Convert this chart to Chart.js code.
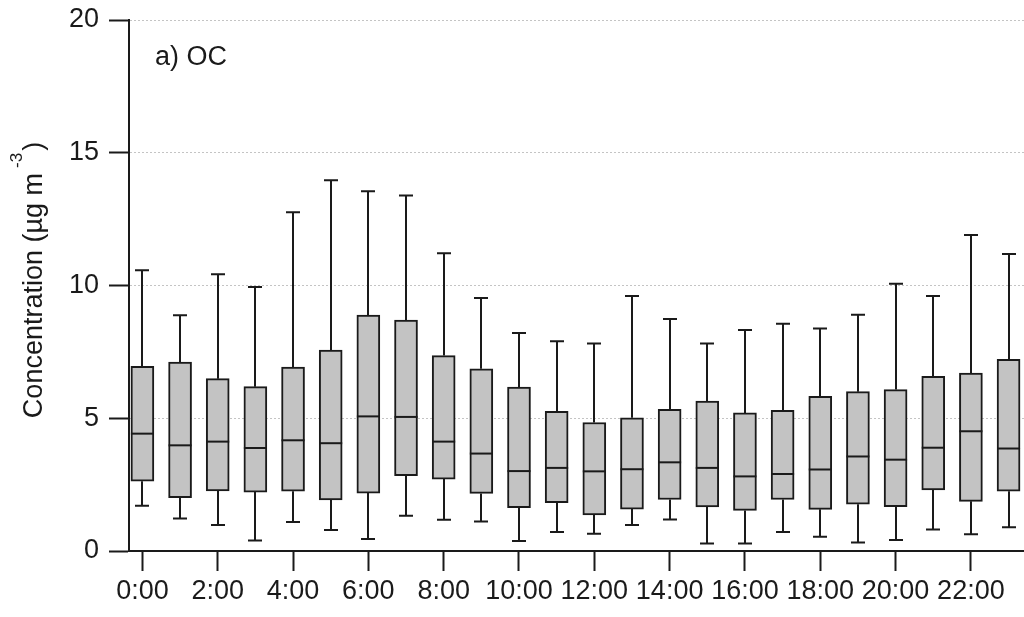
<!DOCTYPE html>
<html>
<head>
<meta charset="utf-8">
<script src="https://cdn.jsdelivr.net/npm/chart.js@4"></script>
<style>
  body { margin: 0; background: #fff; }
</style>
</head>
<body>
<canvas id="oc-chart" width="1024" height="617"></canvas>
<script>
// hour of day for each box
var hours = [0, 1, 2, 3, 4, 5, 6, 7, 8, 9, 10, 11, 12, 13, 14, 15, 16, 17, 18, 19, 20, 21, 22, 23];

// box plot statistics per hour (ug m-3)
var whiskerLow = [1.70, 1.22, 0.98, 0.40, 1.09, 0.79, 0.45, 1.33, 1.18, 1.11, 0.38, 0.72,
                  0.65, 0.98, 1.19, 0.28, 0.28, 0.72, 0.54, 0.32, 0.41, 0.81, 0.63, 0.89];
var boxLow = [2.63, 2.01, 2.26, 2.22, 2.25, 1.92, 2.18, 2.84, 2.71, 2.17, 1.63, 1.82,
              1.36, 1.58, 1.94, 1.66, 1.53, 1.94, 1.57, 1.76, 1.67, 2.30, 1.87, 2.25];
var medians = [4.42, 3.98, 4.12, 3.88, 4.17, 4.06, 5.07, 5.05, 4.12, 3.67, 3.01, 3.13,
               3.00, 3.08, 3.34, 3.13, 2.81, 2.90, 3.07, 3.56, 3.44, 3.89, 4.51, 3.86];
var boxHigh = [6.96, 7.12, 6.49, 6.19, 6.93, 7.57, 8.89, 8.70, 7.36, 6.86, 6.17, 5.26,
               4.84, 5.02, 5.34, 5.65, 5.20, 5.30, 5.83, 6.00, 6.08, 6.58, 6.70, 7.22];
var whiskerHigh = [10.57, 8.88, 10.42, 9.94, 12.76, 13.96, 13.55, 13.39, 11.21, 9.53, 8.21, 7.90,
                   7.82, 9.60, 8.74, 7.82, 8.32, 8.56, 8.38, 8.90, 10.07, 9.60, 11.90, 11.19];

// tick labels
var xTicks = [0, 2, 4, 6, 8, 10, 12, 14, 16, 18, 20, 22];
var yTicks = [0, 5, 10, 15, 20];

var panelLabel = "a) OC";
var yTitle = "Concentration (µg m";
var yTitleSup = "-3";
var yTitleEnd = ")";

var FONT = '"Liberation Sans", Arial, sans-serif';
var INK = '#1a1a1a';

// whiskers, medians, axis title and panel label
var boxExtras = {
  id: 'boxExtras',
  beforeDatasetsDraw: function (chart) {
    let ctx = chart.ctx;
    let xs = chart.scales.x, ys = chart.scales.y;
    ctx.save();
    ctx.strokeStyle = INK;
    ctx.lineWidth = 2;
    hours.forEach(function (h, i) {
      let x = Math.round(xs.getPixelForValue(h));
      let yTop = ys.getPixelForValue(whiskerHigh[i]);
      let yQ3 = ys.getPixelForValue(boxHigh[i]);
      let yQ1 = ys.getPixelForValue(boxLow[i]);
      let yBot = ys.getPixelForValue(whiskerLow[i]);
      ctx.beginPath();
      ctx.moveTo(x, yQ3); ctx.lineTo(x, yTop);
      ctx.moveTo(x - 7, yTop); ctx.lineTo(x + 7, yTop);
      ctx.moveTo(x, yQ1); ctx.lineTo(x, yBot);
      ctx.moveTo(x - 7, yBot); ctx.lineTo(x + 7, yBot);
      ctx.stroke();
    });
    ctx.restore();
  },
  afterDatasetsDraw: function (chart) {
    let ctx = chart.ctx;
    let ys = chart.scales.y;
    let bars = chart.getDatasetMeta(0).data;
    ctx.save();
    ctx.strokeStyle = INK;
    ctx.lineWidth = 2;
    bars.forEach(function (bar, i) {
      let y = ys.getPixelForValue(medians[i]);
      ctx.beginPath();
      ctx.moveTo(bar.x - bar.width / 2, y);
      ctx.lineTo(bar.x + bar.width / 2, y);
      ctx.stroke();
    });
    ctx.restore();
  },
  afterDraw: function (chart) {
    let ctx = chart.ctx;
    let area = chart.chartArea;
    ctx.save();
    ctx.fillStyle = INK;
    ctx.textBaseline = 'alphabetic';

    // panel label
    ctx.font = '27px ' + FONT;
    ctx.textAlign = 'left';
    ctx.fillText(panelLabel, area.left + 26, area.top + 45);

    // rotated y title with superscript
    ctx.translate(42, 280);
    ctx.rotate(-Math.PI / 2);
    ctx.font = '27px ' + FONT;
    let w1 = ctx.measureText(yTitle).width;
    let w3 = ctx.measureText(yTitleEnd).width;
    ctx.font = '17px ' + FONT;
    let w2 = ctx.measureText(yTitleSup).width;
    let gap = 5;
    let start = -(w1 + gap + w2 + 2 + w3) / 2;
    ctx.font = '27px ' + FONT;
    ctx.fillText(yTitle, start, 0);
    ctx.font = '17px ' + FONT;
    ctx.fillText(yTitleSup, start + w1 + gap, -20);
    ctx.font = '27px ' + FONT;
    ctx.fillText(yTitleEnd, start + w1 + gap + w2 + 2, 0);
    ctx.restore();
  }
};

function buildChart() {
  let ctx = document.getElementById('oc-chart').getContext('2d');

  let boxData = hours.map(function (h, i) {
    return { x: h, y: [boxLow[i], boxHigh[i]] };
  });

  new Chart(ctx, {
    type: 'bar',
    data: {
      datasets: [{
        label: 'OC',
        data: boxData,
        backgroundColor: '#c3c3c3',
        borderColor: INK,
        borderWidth: 2,
        borderSkipped: false,
        barThickness: 23
      }]
    },
    options: {
      responsive: false,
      animation: false,
      events: [],
      layout: { padding: { top: 20, right: 0, bottom: 0, left: 0 } },
      plugins: {
        legend: { display: false },
        tooltip: { enabled: false }
      },
      scales: {
        x: {
          type: 'linear',
          offset: false,
          min: -0.356,
          max: 23.41,
          afterBuildTicks: function (scale) {
            scale.ticks = xTicks.map(function (v) { return { value: v }; });
          },
          afterFit: function (scale) {
            scale.height = 66;
            scale.paddingLeft = 0;
            scale.paddingRight = 0;
          },
          grid: {
            offset: false,
            drawOnChartArea: false,
            drawTicks: true,
            tickLength: 20,
            tickWidth: 2,
            tickColor: INK
          },
          border: { display: true, color: INK, width: 2 },
          ticks: {
            color: INK,
            padding: 4,
            maxRotation: 0,
            autoSkip: false,
            font: { family: FONT, size: 27 },
            callback: function (v) { return v + ':00'; }
          }
        },
        y: {
          min: 0,
          max: 20,
          afterBuildTicks: function (scale) {
            scale.ticks = yTicks.map(function (v) { return { value: v }; });
          },
          afterFit: function (scale) {
            scale.width = 129;
            scale.paddingTop = 0;
            scale.paddingBottom = 0;
          },
          grid: {
            color: function (c) { return c.tick && c.tick.value === 0 ? 'rgba(0,0,0,0)' : '#c4c4c4'; },
            lineWidth: 1,
            drawTicks: true,
            tickLength: 20,
            tickWidth: 2,
            tickColor: INK
          },
          border: { display: true, color: INK, width: 2, dash: [2, 2] },
          ticks: {
            color: INK,
            padding: 10,
            font: { family: FONT, size: 27 }
          }
        }
      }
    },
    plugins: [boxExtras]
  });
}

buildChart();
</script>
</body>
</html>
